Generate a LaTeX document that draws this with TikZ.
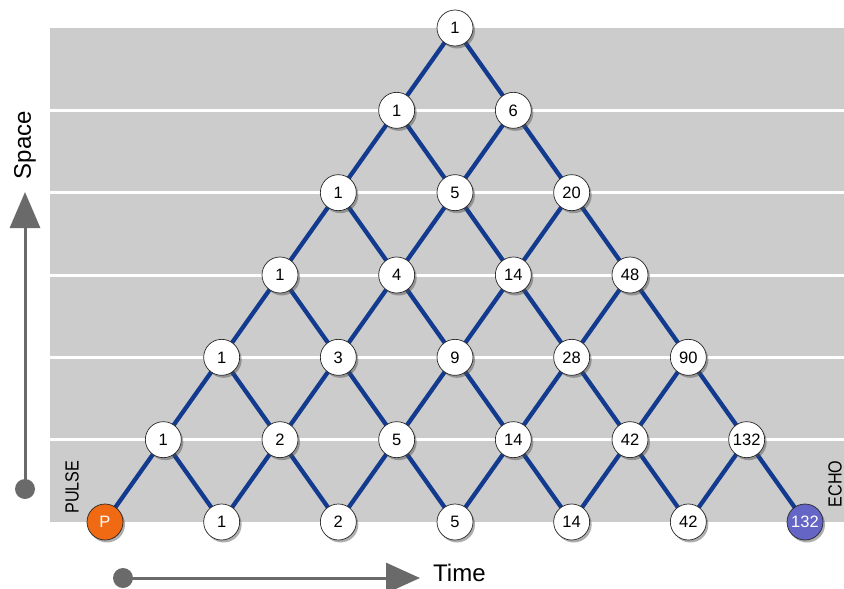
\documentclass[tikz,border=0pt]{standalone}
\usepackage{fontspec}
\setmainfont{Liberation Sans}
\usetikzlibrary{shadows,arrows.meta}
\pgfdeclarelayer{bg}
\pgfdeclarelayer{edges}
\pgfsetlayers{bg,edges,main}
\definecolor{bggray}{HTML}{CCCCCC}
\definecolor{edgeblue}{HTML}{123A8E}
\definecolor{arrowgray}{HTML}{6A6A6A}
\definecolor{pulseor}{HTML}{F06A14}
\definecolor{echopu}{HTML}{6565C6}
\tikzset{
  cell/.style={circle, draw=black!85, line width=0.7pt, fill=white, minimum size=36pt, inner sep=0pt,
    font=\fontsize{16.5}{16.5}\selectfont, drop shadow={shadow xshift=2pt, shadow yshift=-2.5pt, opacity=0.45, fill=black!70}},
  pulsecell/.style={cell, fill=pulseor, text=white},
  echocell/.style={cell, fill=echopu, text=white},
  link/.style={draw=edgeblue, line width=4.3pt},
  axis/.style={draw=arrowgray, fill=arrowgray, line width=3pt},
  axislabel/.style={font=\fontsize{24}{24}\selectfont, text=black, inner sep=0pt},
  sidelabel/.style={font=\fontsize{19}{19}\selectfont, text=black, inner sep=0pt, rotate=90, xscale=0.85}
}
\begin{document}
\begin{tikzpicture}[x=1pt, y=-1pt]
\useasboundingbox (0,0) rectangle (844,589);
\begin{pgfonlayer}{bg}
  \fill[bggray] (50,28) rectangle (844,522);
  \foreach \r in {1,...,5} {
    \draw[white, line width=3pt] (50,{28+82.333*\r}) -- (844,{28+82.333*\r});
  }
\end{pgfonlayer}
% nodes
\node[cell] (n-0-0) at (455,28) {1};
\node[cell] (n-1-0) at (396.67,110.33) {1};
\node[cell] (n-1-1) at (513.33,110.33) {6};
\node[cell] (n-2-0) at (338.33,192.67) {1};
\node[cell] (n-2-1) at (455,192.67) {5};
\node[cell] (n-2-2) at (571.67,192.67) {20};
\node[cell] (n-3-0) at (280,275) {1};
\node[cell] (n-3-1) at (396.67,275) {4};
\node[cell] (n-3-2) at (513.33,275) {14};
\node[cell] (n-3-3) at (630,275) {48};
\node[cell] (n-4-0) at (221.67,357.33) {1};
\node[cell] (n-4-1) at (338.33,357.33) {3};
\node[cell] (n-4-2) at (455,357.33) {9};
\node[cell] (n-4-3) at (571.67,357.33) {28};
\node[cell] (n-4-4) at (688.33,357.33) {90};
\node[cell] (n-5-0) at (163.33,439.67) {1};
\node[cell] (n-5-1) at (280,439.67) {2};
\node[cell] (n-5-2) at (396.67,439.67) {5};
\node[cell] (n-5-3) at (513.33,439.67) {14};
\node[cell] (n-5-4) at (630,439.67) {42};
\node[cell] (n-5-5) at (746.67,439.67) {132};
\node[pulsecell] (n-6-0) at (105,522) {P};
\node[cell] (n-6-1) at (221.67,522) {1};
\node[cell] (n-6-2) at (338.33,522) {2};
\node[cell] (n-6-3) at (455,522) {5};
\node[cell] (n-6-4) at (571.67,522) {14};
\node[cell] (n-6-5) at (688.33,522) {42};
\node[echocell] (n-6-6) at (805,522) {132};
% edges
\begin{pgfonlayer}{edges}
  \foreach \r in {0,...,5} {
    \pgfmathtruncatemacro{\rn}{\r+1}
    \foreach \k in {0,...,\r} {
      \pgfmathtruncatemacro{\kn}{\k+1}
      \draw[link] (n-\r-\k.center) -- (n-\rn-\k.center);
      \draw[link] (n-\r-\k.center) -- (n-\rn-\kn.center);
    }
  }
\end{pgfonlayer}
% axes
\coordinate (sdot) at (25,489);
\coordinate (stip) at (25,192);
\coordinate (tdot) at (123,578);
\coordinate (ttip) at (420,578);
\fill[arrowgray] (sdot) circle (10);
\fill[arrowgray] (tdot) circle (10);
\draw[axis, -{Triangle[length=36pt,width=30pt]}] (sdot) -- (stip);
\draw[axis, -{Triangle[length=34pt,width=30pt]}] (tdot) -- (ttip);
\node[axislabel, rotate=90] (space) at (25,145) {Space};
\node[axislabel, anchor=west] (time) at (433,573) {Time};
\node[sidelabel] (pulse) at (72,487) {PULSE};
\node[sidelabel] (echo) at (835,484) {ECHO};
\end{tikzpicture}
\end{document}
